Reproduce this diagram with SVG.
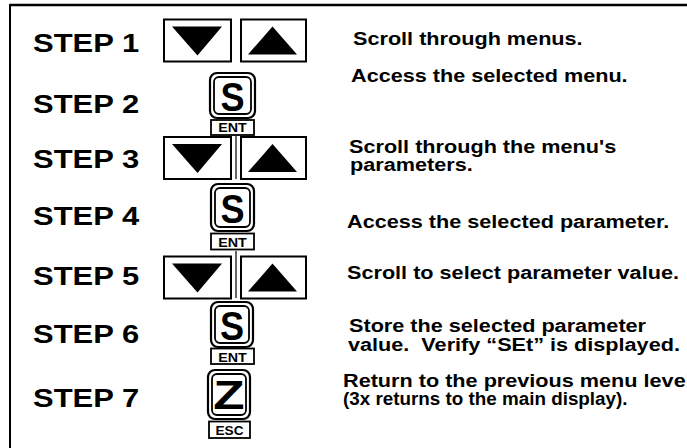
<svg xmlns="http://www.w3.org/2000/svg" width="687" height="448" viewBox="0 0 687 448">
<style>
.step{font-family:"Liberation Sans",Arial,sans-serif;font-weight:bold;font-size:25.6px;fill:#000}
.desc{font-family:"Liberation Sans",Arial,sans-serif;font-weight:bold;font-size:17.6px;fill:#000}
.box{fill:#fff;stroke:#000;stroke-width:2}
.tri{fill:#000}
.kout{fill:#fff;stroke:#000;stroke-width:2.2}
.kin{fill:#fff;stroke:#000;stroke-width:1.8}
.klet{font-family:"Liberation Sans",Arial,sans-serif;font-weight:bold;font-size:41px;fill:#000;text-anchor:middle}
.lab{fill:#fff;stroke:#000;stroke-width:1.8}
.labt{font-family:"Liberation Sans",Arial,sans-serif;font-weight:bold;font-size:13px;fill:#000;text-anchor:middle}
.link{stroke:#000;stroke-width:1.2;fill:none}
</style>
<defs>
<g id="arrows">
<rect class="box" x="164" y="0" width="67" height="42"/>
<polygon class="tri" points="172,7 222,7 197.5,36"/>
<rect class="box" x="241" y="0" width="65" height="42"/>
<polygon class="tri" points="248,35 297,35 272.5,7"/>
</g>
</defs>
<g id="border">
<line x1="10" y1="5" x2="687" y2="5" stroke="#000" stroke-width="2.5"/>
<line x1="10" y1="4" x2="10" y2="448" stroke="#000" stroke-width="2"/>
</g>
<g id="connectors">
<line class="link" x1="236" y1="136" x2="236" y2="179"/>
<line class="link" x1="236" y1="251" x2="236" y2="298"/>
</g>
<g id="step1">
<text class="step" transform="translate(33 52) scale(1.21 1)">STEP 1</text>
<use href="#arrows" y="19.5"/>
<text class="desc" transform="translate(353 45) scale(1.23 1)">Scroll through menus.</text>
</g>
<g id="step2">
<text class="step" transform="translate(33 113) scale(1.21 1)">STEP 2</text>
<rect class="kout" x="210" y="73" width="45" height="45" rx="7"/>
<rect class="kin" x="214" y="77" width="37" height="37" rx="5"/>
<text class="klet" transform="translate(232.5 110.5) scale(0.88 1)">S</text>
<rect class="lab" x="211" y="120" width="43" height="15"/>
<text class="labt" transform="translate(232.5 132) scale(1.1 1)">ENT</text>
<text class="desc" transform="translate(351 82) scale(1.23 1)">Access the selected menu.</text>
</g>
<g id="step3">
<text class="step" transform="translate(33 168) scale(1.21 1)">STEP 3</text>
<use href="#arrows" y="137"/>
<text class="desc" transform="translate(349 153) scale(1.23 1)">Scroll through the menu's</text>
<text class="desc" transform="translate(350 171) scale(1.23 1)">parameters.</text>
</g>
<g id="step4">
<text class="step" transform="translate(33 225) scale(1.21 1)">STEP 4</text>
<rect class="kout" x="211" y="184" width="43" height="47" rx="7"/>
<rect class="kin" x="215" y="188" width="35" height="39" rx="5"/>
<text class="klet" transform="translate(232.5 222.5) scale(0.88 1)">S</text>
<rect class="lab" x="211" y="233.5" width="43" height="16"/>
<text class="labt" transform="translate(232.5 246.5) scale(1.1 1)">ENT</text>
<text class="desc" transform="translate(347 228) scale(1.23 1)">Access the selected parameter.</text>
</g>
<g id="step5">
<text class="step" transform="translate(33 285) scale(1.21 1)">STEP 5</text>
<use href="#arrows" y="256.5"/>
<text class="desc" transform="translate(347 279) scale(1.23 1)">Scroll to select parameter value.</text>
</g>
<g id="step6">
<text class="step" transform="translate(33 343) scale(1.21 1)">STEP 6</text>
<rect class="kout" x="211" y="302" width="42" height="45" rx="7"/>
<rect class="kin" x="215" y="306" width="34" height="37" rx="5"/>
<text class="klet" transform="translate(232 339.5) scale(0.88 1)">S</text>
<rect class="lab" x="211" y="348.5" width="43" height="15.5"/>
<text class="labt" transform="translate(232.5 361.5) scale(1.1 1)">ENT</text>
<text class="desc" transform="translate(349 332) scale(1.23 1)">Store the selected parameter</text>
<text class="desc" xml:space="preserve" transform="translate(348 351) scale(1.23 1)">value.  Verify “SEt” is displayed.</text>
</g>
<g id="step7">
<text class="step" transform="translate(33 407) scale(1.21 1)">STEP 7</text>
<rect class="kout" x="208" y="370" width="42" height="49" rx="7"/>
<rect class="kin" x="212" y="374" width="34" height="41" rx="5"/>
<text class="klet" transform="translate(229 408.5) scale(1.25 1)" font-size="37">Z</text>
<rect class="lab" x="209" y="421.5" width="41" height="16.5"/>
<text class="labt" transform="translate(229.5 435) scale(1.05 1)" font-size="13.5">ESC</text>
<text class="desc" transform="translate(343 387) scale(1.23 1)">Return to the previous menu level</text>
<text class="desc" transform="translate(343 405) scale(1.07 1)">(3x returns to the main display).</text>
</g>
</svg>
